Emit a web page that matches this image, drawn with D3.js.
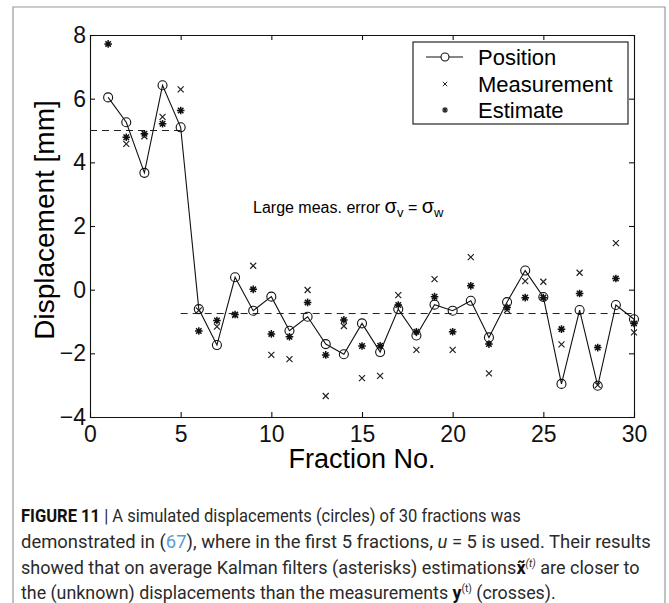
<!DOCTYPE html>
<html>
<head>
<meta charset="utf-8">
<script src="https://cdn.jsdelivr.net/npm/d3@7"></script>
<style>
  body { margin: 0; background: #fff; }
  svg { display: block; }
  .axis text { font-family: "Liberation Sans", Arial, sans-serif; font-size: 23px; fill: #111; }
  .axis path, .axis line { stroke: #111; stroke-width: 1.1; }
</style>
</head>
<body>
<svg id="chart" width="669" height="603"></svg>
<script>
// fractions 1..30
let fractions = d3.range(1, 31);
let position = [6.04, 5.26, 3.67, 6.42, 5.10, -0.61, -1.74, 0.39, -0.66, -0.22,
    -1.29, -0.85, -1.71, -2.03, -1.06, -1.96, -0.61, -1.44, -0.47, -0.66,
    -0.35, -1.50, -0.39, 0.60, -0.23, -2.96, -0.64, -3.02, -0.48, -0.93];
let measurement = [null, 4.58, 4.82, 5.43, 6.29, -0.65, -1.16, -0.80, 0.75, -2.05,
    -2.18, -0.01, -3.34, -1.14, -2.78, -2.71, -0.17, -1.89, 0.33, -1.89,
    1.02, -2.63, -0.64, 0.27, 0.25, -1.72, 0.53, -3.00, 1.46, -1.34];
let estimate = [7.72, 4.79, 4.90, 5.21, 5.63, -1.30, -0.97, -0.78, 0.01, -1.39,
    -1.48, -0.40, -2.05, -0.95, -1.77, -1.76, -0.48, -1.32, -0.22, -1.32,
    0.12, -1.71, -0.56, -0.25, -0.25, -1.24, -0.12, -1.82, 0.35, -1.06];
// mean levels (dashed)
let levelStart = [0, 5];
let levelEnd = [5, 30];
let levelValue = [5, -0.75];

let xTicks = [0, 5, 10, 15, 20, 25, 30];
let yTicks = [-4, -2, 0, 2, 4, 6, 8];
let legendLabels = ['Position', 'Measurement', 'Estimate'];

let svg = d3.select('#chart');

// figure frame
svg.append('path')
    .attr('d', 'M13,603V7H665V603')
    .attr('fill', 'none')
    .attr('stroke', '#9a9a9a')
    .attr('stroke-width', 1.2);

let margin = {left: 90, right: 35, top: 35, bottom: 186};
let width = 669 - margin.left - margin.right;
let height = 603 - margin.top - margin.bottom;

let x = d3.scaleLinear().domain([0, 30]).range([margin.left, margin.left + width]);
let y = d3.scaleLinear().domain([-4, 8]).range([margin.top + height, margin.top]);

// axes (ticks point inward, box on all sides)
svg.append('g').attr('class', 'axis')
    .attr('transform', `translate(0,${margin.top + height})`)
    .call(d3.axisBottom(x).tickValues(xTicks).tickSizeInner(-5).tickSizeOuter(0).tickPadding(9));
svg.append('g').attr('class', 'axis')
    .attr('transform', `translate(${margin.left},0)`)
    .call(d3.axisLeft(y).tickValues(yTicks).tickSizeInner(-5).tickSizeOuter(0).tickPadding(4));
svg.append('g').attr('class', 'axis')
    .attr('transform', `translate(0,${margin.top})`)
    .call(d3.axisTop(x).tickValues(xTicks).tickSizeInner(-5).tickSizeOuter(0).tickFormat(''));
svg.append('g').attr('class', 'axis')
    .attr('transform', `translate(${margin.left + width},0)`)
    .call(d3.axisRight(y).tickValues(yTicks).tickSizeInner(-5).tickSizeOuter(0).tickFormat(''));

svg.selectAll('.axis').select('.domain').attr('stroke-linecap', 'square');

// axis titles
svg.append('text')
    .attr('x', x(15)).attr('y', 468)
    .attr('text-anchor', 'middle')
    .style('font-family', '"Liberation Sans", Arial, sans-serif')
    .style('font-size', '27px')
    .text('Fraction No.');
svg.append('text')
    .attr('transform', `translate(54,${y(2) - 6}) rotate(-90)`)
    .attr('text-anchor', 'middle')
    .style('font-family', '"Liberation Sans", Arial, sans-serif')
    .style('font-size', '28px')
    .text('Displacement [mm]');

// dashed mean levels
svg.append('g').selectAll('line')
    .data(levelValue)
    .enter().append('line')
    .attr('x1', (d, i) => x(levelStart[i]))
    .attr('x2', (d, i) => x(levelEnd[i]))
    .attr('y1', d => y(d))
    .attr('y2', d => y(d))
    .attr('stroke', '#222')
    .attr('stroke-width', 1)
    .attr('stroke-dasharray', '7,5');

// marker paths
function crossPath(r) {
    return `M${-r},${-r}L${r},${r}M${-r},${r}L${r},${-r}`;
}
function starPath(r) {
    let d = r * 0.72;
    return `M0,${-r}V${r}M${-r},0H${r}M${-d},${-d}L${d},${d}M${-d},${d}L${d},${-d}`;
}

let line = d3.line()
    .x((d, i) => x(fractions[i]))
    .y(d => y(d));

svg.append('path')
    .datum(position)
    .attr('d', line)
    .attr('fill', 'none')
    .attr('stroke', '#111')
    .attr('stroke-width', 1.1);

svg.append('g').selectAll('path')
    .data(measurement.map((v, i) => ({f: fractions[i], v: v})).filter(d => d.v !== null))
    .enter().append('path')
    .attr('transform', d => `translate(${x(d.f)},${y(d.v)})`)
    .attr('d', crossPath(3))
    .attr('stroke', '#222')
    .attr('stroke-width', 1.2);

svg.append('g').selectAll('path')
    .data(estimate.map((v, i) => ({f: fractions[i], v: v})))
    .enter().append('path')
    .attr('transform', d => `translate(${x(d.f)},${y(d.v)})`)
    .attr('d', starPath(3.8))
    .attr('stroke', '#111')
    .attr('stroke-width', 1.5);

svg.append('g').selectAll('circle')
    .data(position)
    .enter().append('circle')
    .attr('cx', (d, i) => x(fractions[i]))
    .attr('cy', d => y(d))
    .attr('r', 4.5)
    .attr('fill', 'none')
    .attr('stroke', '#111')
    .attr('stroke-width', 1.1);

// annotation
let note = svg.append('text')
    .attr('x', 253).attr('y', 213)
    .style('font-family', '"Liberation Sans", Arial, sans-serif')
    .style('font-size', '16px');
note.append('tspan').text('Large meas. error ');
note.append('tspan').style('font-size', '20px').text('σ');
note.append('tspan').attr('dy', 4).style('font-size', '13px').text('v');
note.append('tspan').attr('dy', -4).text(' = ');
note.append('tspan').style('font-size', '20px').text('σ');
note.append('tspan').attr('dy', 4).style('font-size', '13px').text('w');

// legend
let legend = svg.append('g');
legend.append('rect')
    .attr('x', 413).attr('y', 42).attr('width', 215).attr('height', 82)
    .attr('fill', '#fff').attr('stroke', '#111').attr('stroke-width', 1.1);
let rowY = [57, 84, 110];
legend.selectAll('text')
    .data(legendLabels)
    .enter().append('text')
    .attr('x', 478)
    .attr('y', (d, i) => rowY[i] + 8)
    .style('font-family', '"Liberation Sans", Arial, sans-serif')
    .style('font-size', '22px')
    .text(d => d);
legend.append('line')
    .attr('x1', 426).attr('x2', 463).attr('y1', rowY[0]).attr('y2', rowY[0])
    .attr('stroke', '#111').attr('stroke-width', 1.1);
legend.append('circle')
    .attr('cx', 445).attr('cy', rowY[0]).attr('r', 4)
    .attr('fill', '#fff').attr('stroke', '#111').attr('stroke-width', 1.1);
legend.append('path')
    .attr('transform', `translate(445,${rowY[1]})`)
    .attr('d', crossPath(2.2)).attr('stroke', '#222').attr('stroke-width', 1);
legend.append('path')
    .attr('transform', `translate(445,${rowY[2]})`)
    .attr('d', starPath(3)).attr('stroke', '#222').attr('stroke-width', 1.2);

// caption, each line stretched to the width it has in the figure
let capFont = 'Roboto, "Liberation Sans", Arial, sans-serif';
let capX = 21;
let capY = [522, 548, 574, 599];
let capRight = [521, 651, 640, 556];
let capColor = '#2a2a2a';

function capLine(i) {
    return svg.append('text').attr('x', 0).attr('y', capY[i])
        .style('font-family', capFont).style('font-size', '17.5px')
        .attr('fill', capColor);
}

let c1 = capLine(0);
c1.append('tspan').style('font-weight', 'bold').attr('fill', '#111').text('FIGURE 11');
c1.append('tspan').text(' | A simulated displacements (circles) of 30 fractions was');

let c2 = capLine(1);
c2.append('tspan').text('demonstrated in (');
c2.append('tspan').attr('fill', '#5b9bd5').text('67');
c2.append('tspan').text('), where in the first 5 fractions, ');
c2.append('tspan').style('font-style', 'italic').text('u');
c2.append('tspan').text(' = 5 is used. Their results');

let c3 = capLine(2);
c3.append('tspan').text('showed that on average Kalman filters (asterisks) estimations');
c3.append('tspan').style('font-weight', 'bold').attr('fill', '#111').text('x̃');
c3.append('tspan').attr('dy', -7).style('font-size', '10px').style('font-style', 'italic').text('(t)');
c3.append('tspan').attr('dy', 7).text(' are closer to');

let c4 = capLine(3);
c4.append('tspan').text('the (unknown) displacements than the measurements ');
c4.append('tspan').style('font-weight', 'bold').attr('fill', '#111').text('y');
c4.append('tspan').attr('dy', -7).style('font-size', '10px').text('(t)');
c4.append('tspan').attr('dy', 7).text(' (crosses).');

[c1, c2, c3, c4].forEach((t, i) => {
    let w = t.node().getComputedTextLength();
    let s = (capRight[i] - capX) / w;
    t.attr('transform', `translate(${capX},0) scale(${s},1)`);
});
</script>
</body>
</html>
